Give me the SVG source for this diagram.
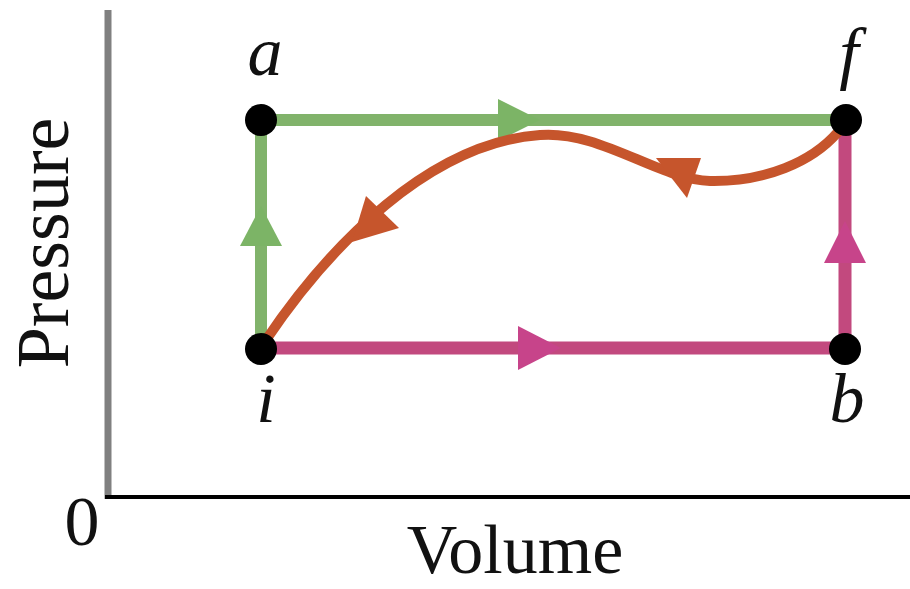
<svg xmlns="http://www.w3.org/2000/svg" width="910" height="589" viewBox="0 0 910 589">
<style>
.lbl{font-family:"Liberation Serif","DejaVu Serif","Times New Roman",serif;font-style:italic;font-size:70px;fill:#111;text-anchor:middle}
.ax{font-family:"Liberation Serif","DejaVu Serif","Times New Roman",serif;font-size:70px;fill:#111;text-anchor:middle}
.g{stroke:#81b36b;stroke-width:12;fill:none}
.p{stroke:#c2497e;stroke-width:13;fill:none}
.o{stroke:#c6552c;stroke-width:10;fill:none;stroke-linecap:round}
.gh{fill:#7cb466}
.ph{fill:#c7448a}
.oh{fill:#c6552c}
.dot{fill:#000}
</style>
<rect width="910" height="589" fill="#fff"/>
<g id="axes">
<line x1="108" y1="10" x2="108" y2="499" stroke="#808080" stroke-width="7"/>
<line x1="105" y1="497" x2="910" y2="497" stroke="#000" stroke-width="4"/>
<text class="ax" x="82" y="545" font-family="Liberation Serif, DejaVu Serif, serif">0</text>
<text class="ax" x="515" y="573" font-family="Liberation Serif, DejaVu Serif, serif">Volume</text>
<text class="ax" transform="translate(68,243) rotate(-90)" x="0" y="0" font-family="Liberation Serif, DejaVu Serif, serif" style="font-size:74px">Pressure</text>
</g>
<g id="connectors">
<path class="g" d="M261 120 H846"/>
<path class="g" d="M261 349 V120"/>
<path class="p" d="M261 348 H846"/>
<path class="p" d="M845 349 V120"/>
<polygon class="gh" points="540,120 498,99 498,141"/>
<polygon class="gh" points="261,206 240,246 282,246"/>
<polygon class="ph" points="561,348 518,326 518,370"/>
<polygon class="ph" points="845,221 824,263 866,263"/>
<path class="o" d="M266 340 C330 245 430 143 540 135 C600 130 660 180 710 181 C765 182 812 162 838 132"/>
<polygon class="oh" points="352,242 366,196 399,228"/>
<polygon class="oh" points="656,158 701,158 687,198"/>
</g>
<g id="node-a"><circle class="dot" cx="261" cy="120" r="16"/><text class="lbl" x="265" y="75" font-family="Liberation Serif, DejaVu Serif, serif">a</text></g>
<g id="node-f"><circle class="dot" cx="846" cy="120" r="16"/><text class="lbl" x="849" y="76" font-family="Liberation Serif, DejaVu Serif, serif">f</text></g>
<g id="node-i"><circle class="dot" cx="261" cy="349" r="16"/><text class="lbl" x="266" y="422" font-family="Liberation Serif, DejaVu Serif, serif">i</text></g>
<g id="node-b"><circle class="dot" cx="845" cy="349" r="16"/><text class="lbl" x="847" y="422" font-family="Liberation Serif, DejaVu Serif, serif">b</text></g>
</svg>
